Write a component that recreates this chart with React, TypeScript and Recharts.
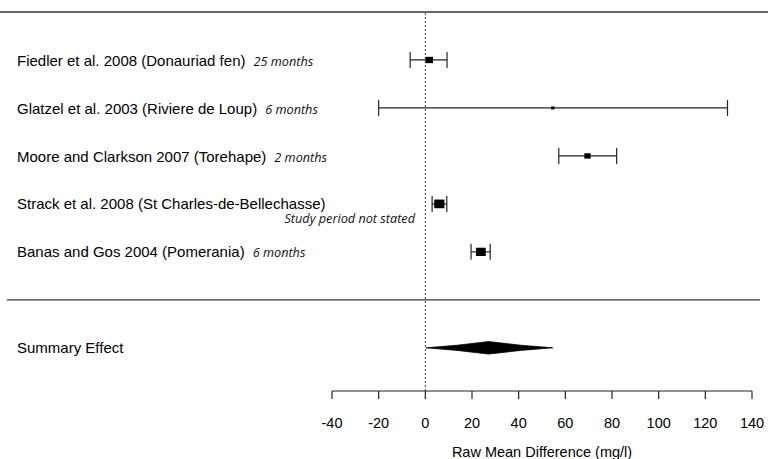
import React from 'react';
import { ScatterChart, Scatter, XAxis, YAxis, ErrorBar, ReferenceLine, ReferenceArea } from 'recharts';

const studies = [
  'Fiedler et al. 2008 (Donauriad fen)',
  'Glatzel et al. 2003 (Riviere de Loup)',
  'Moore and Clarkson 2007 (Torehape)',
  'Strack et al. 2008 (St Charles-de-Bellechasse)',
  'Banas and Gos 2004 (Pomerania)',
];
const durations = ['25 months', '6 months', '2 months', 'Study period not stated', '6 months'];
const means = [1.7, 54.6, 69.5, 6.0, 23.8];
const lowers = [-6.5, -20.0, 57.2, 2.9, 19.6];
const uppers = [9.3, 129.5, 82.0, 9.2, 27.8];
const weights = [18, 4, 13, 34, 31];
const rows = [1, 2, 3, 4, 5];

const summaryLabel = 'Summary Effect';
const summaryRow = 7;
const summaryMean = 27.1;
const summaryLower = 0.3;
const summaryUpper = 54.6;

const xTicks = [-40, -20, 0, 20, 40, 60, 80, 100, 120, 140];
const xTitle = 'Raw Mean Difference (mg/l)';

const data = studies.map((s, i) => ({
  study: s,
  duration: durations[i],
  row: rows[i],
  mean: means[i],
  err: [means[i] - lowers[i], uppers[i] - means[i]],
  weight: weights[i],
}));

const SANS = '"Liberation Sans", Arial, sans-serif';
const ITALIC = '"Open Sans", "Noto Sans", sans-serif';
const LABEL_SIZE = 15;
const ITALIC_SIZE = 12.7;

const BoxShape = (props: any) => {
  const { cx, cy, payload } = props;
  const w = Math.sqrt(payload.weight) * 1.75;
  const h = w * 0.85;
  return <rect x={cx - w / 2} y={cy - h / 2} width={w} height={h} fill="#000" />;
};

const RowTick = (props: any) => {
  const { y, payload } = props;
  const v = payload.value;
  if (v === summaryRow) {
    return (
      <text x={17} y={y} dy="0.35em" fontFamily={SANS} fontSize={LABEL_SIZE} fill="#000">
        {summaryLabel}
      </text>
    );
  }
  const d = data.find((r) => r.row === v);
  if (!d) return null;
  if (d.duration === 'Study period not stated') {
    return (
      <g>
        <text x={17} y={y} dy="0.35em" fontFamily={SANS} fontSize={LABEL_SIZE} fill="#000">
          {d.study}
        </text>
        <text x={415} y={y + 15} dy="0.35em" textAnchor="end" fontFamily={ITALIC} fontStyle="italic" fontSize={ITALIC_SIZE} fill="#111">
          {d.duration}
        </text>
      </g>
    );
  }
  return (
    <text x={17} y={y} dy="0.35em" fill="#000">
      <tspan fontFamily={SANS} fontSize={LABEL_SIZE}>{d.study}</tspan>
      <tspan dx={8} fontFamily={ITALIC} fontStyle="italic" fontSize={ITALIC_SIZE} fill="#111">{d.duration}</tspan>
    </text>
  );
};

const Diamond = (props: any) => {
  const { x, y, width, height } = props;
  const frac = (summaryMean - summaryLower) / (summaryUpper - summaryLower);
  const cx = x + width * frac;
  const cy = y + height / 2;
  const h = height / 2;
  const lq = x + (cx - x) * 0.5;
  const rq = cx + (x + width - cx) * 0.5;
  const pts = [
    `${x},${cy}`,
    `${lq},${cy - h * 0.42}`,
    `${cx},${y}`,
    `${rq},${cy - h * 0.42}`,
    `${x + width},${cy}`,
    `${rq},${cy + h * 0.42}`,
    `${cx},${y + height}`,
    `${lq},${cy + h * 0.42}`,
  ].join(' ');
  return <polygon points={pts} fill="#000" stroke="#000" strokeWidth={0.8} />;
};

const FullLine = (x1: number, x2: number) => (props: any) => (
  <line x1={x1} x2={x2} y1={props.y1} y2={props.y1} stroke="#333" strokeWidth={1.3} />
);

export default function App() {
  return (
    <div style={{ position: 'absolute', left: 0, top: 0, width: 768, height: 459, background: '#fff' }}>
      <ScatterChart width={768} height={459} margin={{ top: 12, right: 16, bottom: 0, left: 0 }}>
        <XAxis
          type="number"
          dataKey="mean"
          domain={[-40, 140]}
          ticks={xTicks}
          interval={0}
          allowDataOverflow
          tickSize={8}
          tickMargin={19}
          height={68}
          axisLine={{ stroke: '#222', strokeWidth: 1.2 }}
          tickLine={{ stroke: '#222', strokeWidth: 1.2 }}
          tick={{ fontFamily: SANS, fontSize: 14.5, fill: '#000' }}
          label={{ value: xTitle, position: 'insideBottom', offset: 2, fontFamily: SANS, fontSize: 14.5, fill: '#000' }}
        />
        <YAxis
          type="number"
          dataKey="row"
          domain={[0, 7.9]}
          reversed
          ticks={[1, 2, 3, 4, 5, 7]}
          interval={0}
          width={332}
          axisLine={false}
          tickLine={false}
          tick={<RowTick />}
        />
        <ReferenceLine y={0} shape={FullLine(0, 768)} ifOverflow="visible" />
        <ReferenceLine y={6} shape={FullLine(7, 760)} ifOverflow="visible" />
        <ReferenceLine x={0} stroke="#444" strokeWidth={1} strokeDasharray="2 2" />
        <ReferenceArea
          x1={summaryLower}
          x2={summaryUpper}
          y1={summaryRow - 0.13}
          y2={summaryRow + 0.13}
          shape={<Diamond />}
        />
        <Scatter data={data} shape={<BoxShape />} isAnimationActive={false}>
          <ErrorBar dataKey="err" direction="x" width={8} stroke="#222" strokeWidth={1.2} isAnimationActive={false} />
        </Scatter>
      </ScatterChart>
    </div>
  );
}
